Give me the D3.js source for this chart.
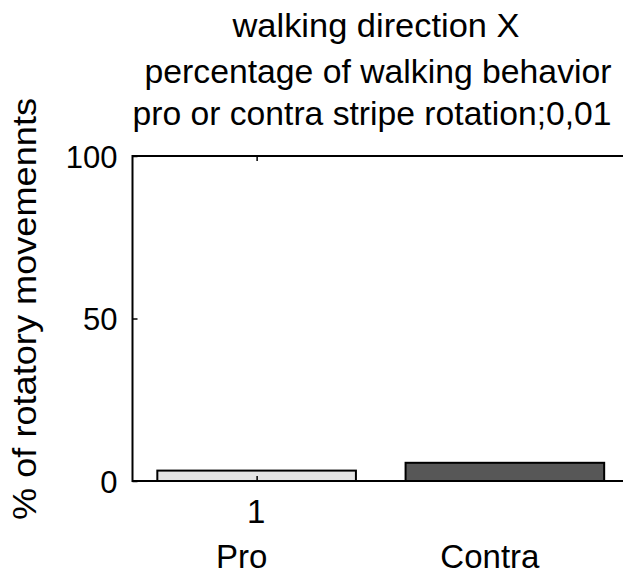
<!DOCTYPE html>
<html>
<head>
<meta charset="utf-8">
<script src="https://cdn.jsdelivr.net/npm/d3@7"></script>
<style>
  html, body { margin: 0; padding: 0; background: #fff; }
  svg { display: block; }
  text { font-family: "Liberation Sans", Arial, Helvetica, sans-serif; fill: #000; }
</style>
</head>
<body>
<svg id="chart" width="623" height="575"></svg>
<script>
// Percentage of rotatory movements, walking direction X
const categories = ["Pro", "Contra"];
const positions = [1, 2];
const values = [3.2, 5.6];
const fills = ["#e4e4e4", "#575757"];
const yTicks = [0, 50, 100];
const xTicks = [1];
const titleLines = [
  "walking direction X",
  "percentage of walking behavior",
  "pro or contra stripe rotation;0,01"
];
const yLabel = "% of rotatory movemennts";

const svg = d3.select("#chart");
const fontSize = 33;

// axes box: left 132.5, top 156, bottom 481; right edge lies past the window
const x = d3.scaleLinear().domain([0.5, 2.5]).range([132.5, 629]);
const y = d3.scaleLinear().domain([0, 100]).range([481, 156]);
const barWidth = 0.8;

// bars
svg.append("g")
  .selectAll("rect")
  .data(values)
  .join("rect")
  .attr("x", (d, i) => x(positions[i] - barWidth / 2))
  .attr("width", x(barWidth) - x(0))
  .attr("y", d => y(d))
  .attr("height", d => y(0) - y(d))
  .attr("fill", (d, i) => fills[i])
  .attr("stroke", "#000")
  .attr("stroke-width", 2);

// box outline
const [x0, x1] = x.range();
const [yb, yt] = y.range();
svg.append("rect")
  .attr("x", x0).attr("y", yt)
  .attr("width", x1 - x0).attr("height", yb - yt)
  .attr("fill", "none").attr("stroke", "#000").attr("stroke-width", 2);

// inward tick marks
const tickLen = 5;
const yAxisL = d3.axisLeft(y).tickValues(yTicks).tickSizeInner(-tickLen).tickSizeOuter(0).tickPadding(15)
  .tickFormat(d3.format("d"));
const gL = svg.append("g").attr("transform", `translate(${x0},0)`).call(yAxisL);
gL.select(".domain").remove();
gL.selectAll("line").attr("stroke", "#000").attr("stroke-width", 1.5);
gL.selectAll("text").attr("font-size", 31).attr("font-family", null).attr("dy", "0.36em");

const yAxisR = d3.axisRight(y).tickValues(yTicks).tickSizeInner(-tickLen).tickSizeOuter(0).tickFormat("");
const gR = svg.append("g").attr("transform", `translate(${x1},0)`).call(yAxisR);
gR.select(".domain").remove();
gR.selectAll("line").attr("stroke", "#000").attr("stroke-width", 1.5);

const xAxisT = d3.axisTop(x).tickValues(xTicks).tickSizeInner(-tickLen).tickSizeOuter(0).tickFormat("");
const gT = svg.append("g").attr("transform", `translate(0,${yt})`).call(xAxisT);
gT.select(".domain").remove();
gT.selectAll("line").attr("stroke", "#000").attr("stroke-width", 1.5);

const xAxisB = d3.axisBottom(x).tickValues(xTicks).tickSizeInner(-tickLen).tickSizeOuter(0).tickPadding(19)
  .tickFormat(d3.format("d"));
const gB = svg.append("g").attr("transform", `translate(0,${yb})`).call(xAxisB);
gB.select(".domain").remove();
gB.selectAll("line").attr("stroke", "#000").attr("stroke-width", 1.5);
gB.selectAll("text").attr("font-size", fontSize).attr("font-family", null).attr("dy", "0.71em")
  .attr("transform", "translate(-1,0)");

// category labels under the axis
svg.append("g")
  .selectAll("text")
  .data(categories)
  .join("text")
  .attr("x", (d, i) => x(positions[i]) - 15)
  .attr("y", 568)
  .attr("text-anchor", "middle")
  .attr("font-size", fontSize)
  .text(d => d);

// title
const titleWidths = [287, 467, 479];
const titleCenters = [376, 378, 372];
const titleBaselines = [37, 83, 125];
svg.append("g")
  .selectAll("text")
  .data(titleLines)
  .join("text")
  .attr("x", (d, i) => titleCenters[i])
  .attr("y", (d, i) => titleBaselines[i])
  .attr("text-anchor", "middle")
  .attr("font-size", fontSize)
  .attr("textLength", (d, i) => titleWidths[i])
  .attr("lengthAdjust", "spacingAndGlyphs")
  .text(d => d);

// y axis label
svg.append("text")
  .attr("transform", "translate(36,309) rotate(-90)")
  .attr("text-anchor", "middle")
  .attr("font-size", fontSize)
  .attr("textLength", 422)
  .attr("lengthAdjust", "spacingAndGlyphs")
  .text(yLabel);
</script>
</body>
</html>
